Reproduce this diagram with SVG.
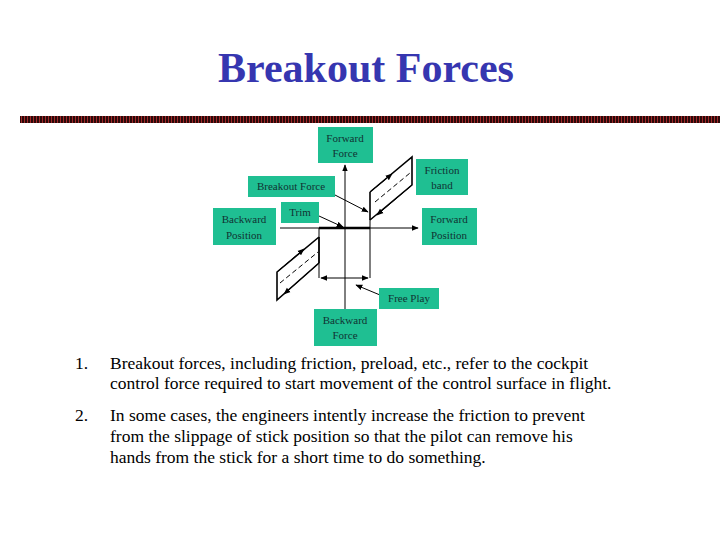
<svg xmlns="http://www.w3.org/2000/svg" width="728" height="546" viewBox="0 0 728 546">
<defs>
<style>
.box{fill:#1fbf92}
.bt{font-family:"Liberation Serif",serif;font-size:11px;fill:#133;text-anchor:middle}
.ln{stroke:#000;stroke-width:1;fill:none}
.thk{stroke:#000;stroke-width:1.6;fill:none}
.body{font-family:"Liberation Serif",serif;font-size:17.5px;fill:#000}
</style>
<marker id="ah" viewBox="0 0 10 10" refX="9" refY="5" markerWidth="7" markerHeight="7" orient="auto-start-reverse"><path d="M0,1 L10,5 L0,9 Z" fill="#000"/></marker>
<pattern id="st" width="3" height="8" patternUnits="userSpaceOnUse"><rect width="3" height="8" fill="#2a0808"/><rect width="1" height="8" fill="#a02828"/></pattern>
</defs>
<rect width="728" height="546" fill="#fff"/>
<text x="366" y="82" text-anchor="middle" font-family="Liberation Serif,serif" font-size="42" font-weight="bold" fill="#3636b0">Breakout Forces</text>
<rect x="20" y="116" width="700" height="7" fill="url(#st)"/>
<g id="connectors">
<line class="ln" x1="345" y1="309" x2="345" y2="165" marker-end="url(#ah)"/>
<line class="ln" x1="280" y1="228" x2="418" y2="228" marker-end="url(#ah)"/>
<line x1="319" y1="228" x2="370" y2="228" stroke="#000" stroke-width="2.5"/>
<line class="thk" x1="370" y1="192" x2="370" y2="220"/>
<line class="ln" x1="370" y1="220" x2="370" y2="278"/>
<line class="thk" x1="319" y1="237" x2="319" y2="263"/>
<line class="ln" x1="319" y1="228" x2="319" y2="278"/>
<line class="ln" x1="321" y1="278" x2="368" y2="278" marker-start="url(#ah)" marker-end="url(#ah)"/>
<path class="thk" d="M370,192 L412,157 L412,185 L370,220"/>
<line class="ln" x1="370" y1="192" x2="392" y2="174" marker-end="url(#ah)"/>
<line class="ln" x1="412" y1="185" x2="377" y2="215" marker-end="url(#ah)"/>
<line class="ln" x1="375" y1="202" x2="410" y2="173" stroke-dasharray="5,3"/>
<path class="thk" d="M319,237 L277,272 L277,300 L319,263"/>
<line class="ln" x1="277" y1="272" x2="304" y2="249" marker-end="url(#ah)"/>
<line class="ln" x1="319" y1="263" x2="284" y2="294" marker-end="url(#ah)"/>
<line class="ln" x1="280" y1="283" x2="318" y2="252" stroke-dasharray="5,3"/>
<line class="ln" x1="335" y1="195" x2="368" y2="212" marker-end="url(#ah)"/>
<line class="ln" x1="319" y1="216" x2="343" y2="227" marker-end="url(#ah)"/>
<line class="ln" x1="380" y1="295" x2="356" y2="285" marker-end="url(#ah)"/>
</g>
<g id="forward-force"><rect class="box" x="318" y="127" width="55" height="36"/><text class="bt" x="345" y="142">Forward</text><text class="bt" x="345" y="157">Force</text></g>
<g id="friction-band"><rect class="box" x="416" y="159" width="52" height="36"/><text class="bt" x="442" y="174">Friction</text><text class="bt" x="442" y="189">band</text></g>
<g id="breakout-force"><rect class="box" x="248" y="176" width="87" height="21"/><text class="bt" x="291" y="190">Breakout Force</text></g>
<g id="trim"><rect class="box" x="281" y="202" width="38" height="21"/><text class="bt" x="300" y="216">Trim</text></g>
<g id="backward-position"><rect class="box" x="213" y="208" width="63" height="37"/><text class="bt" x="244" y="223">Backward</text><text class="bt" x="244" y="239">Position</text></g>
<g id="forward-position"><rect class="box" x="422" y="208" width="55" height="37"/><text class="bt" x="449" y="223">Forward</text><text class="bt" x="449" y="239">Position</text></g>
<g id="free-play"><rect class="box" x="379" y="288" width="60" height="21"/><text class="bt" x="409" y="302">Free Play</text></g>
<g id="backward-force"><rect class="box" x="314" y="309" width="63" height="37"/><text class="bt" x="345" y="324">Backward</text><text class="bt" x="345" y="339">Force</text></g>
<g id="text">
<text class="body" x="75" y="369">1.</text>
<text class="body" x="110" y="369">Breakout forces, including friction, preload, etc., refer to the cockpit</text>
<text class="body" x="110" y="389">control force required to start movement of the control surface in flight.</text>
<text class="body" x="75" y="421">2.</text>
<text class="body" x="110" y="421">In some cases, the engineers intently increase the friction to  prevent</text>
<text class="body" x="110" y="442">from the slippage of stick position so that the pilot can remove his</text>
<text class="body" x="110" y="463">hands from the stick for a short time to do something.</text>
</g>
</svg>
